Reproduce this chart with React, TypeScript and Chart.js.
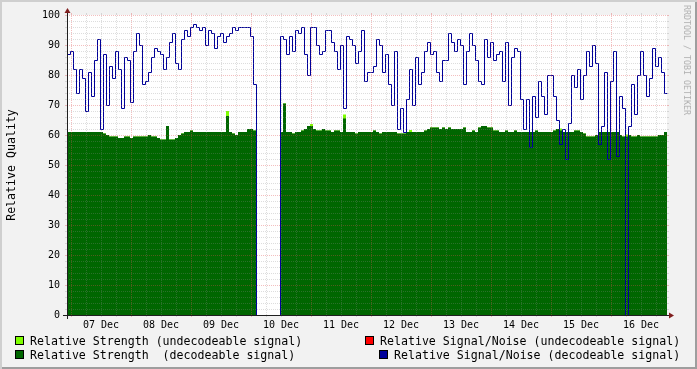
import { useEffect, useRef } from 'react';
import { Chart, registerables } from 'chart.js';

Chart.register(...registerables);

// ---- data ----
const dayLabels = ['07 Dec', '08 Dec', '09 Dec', '10 Dec', '11 Dec', '12 Dec', '13 Dec', '14 Dec', '15 Dec', '16 Dec'];
// hours relative to 07 Dec 00:00
const startHour = -1.6;
const stepHours = 1.2;
const endHour = 238.4;

// Relative Signal/Noise (decodeable signal)
const snrDecodeable = [
  87, 88, 82, 74, 82, 79, 68, 81, 73, 85, 92, 62, 87, 70, 83, 79, 88, 82, 69, 86,
  85, 71, 88, 94, 90, 77, 78, 81, 86, 89, 88, 87, 82,
  86, 91, 94, 84, 82, 92, 95, 93, 96, 97, 96, 95, 96, 90, 95, 94, 89, 93, 94, 91,
  93, 94, 96, 95, 96, 96, 96, 96, 93, 77,
  0, 0, 0, 0, 0, 0, 0, 0,
  93, 92, 87, 93, 88, 95, 94, 96, 87, 80, 96, 96, 90, 87, 88, 95, 95, 91, 88, 82,
  90, 69, 93, 92, 90, 84, 88, 95, 78,
  81, 81, 83, 92, 90, 81, 87, 77, 70, 88, 62, 69, 61, 72, 82, 70, 86, 77, 81, 88,
  91, 87, 88, 81, 78, 85, 85, 94, 91, 88, 92, 90, 77,
  88, 94, 90, 85, 78, 77, 92, 86, 91, 85, 87, 88, 78, 91, 70, 86, 89, 88, 72, 62,
  72, 56, 73, 66, 78, 73, 67, 80, 80, 73, 65, 57, 62,
  52, 64, 80, 76, 82, 72, 80, 88, 83, 90, 84, 57, 63, 81, 52, 78, 88, 53, 73, 69,
  0, 63, 77, 67, 80, 88, 80, 73, 79, 89, 83, 86, 81, 74,
];

// Relative Strength (decodeable signal)
const strengthDecodeable = [
  61, 61, 61, 61, 61, 61, 61, 61, 61, 61, 61, 61,
  60.5, 60, 59.5, 59.5,
  59.5, 59, 59, 59.5, 59.5, 59, 59.5, 59.5, 59.5,
  59.5, 59.5, 60, 59.5, 59.5, 59,
  58.5, 58.5, 63, 58.5, 58.5, 59,
  60, 60.5, 61,
  61, 61.5, 61, 61, 61, 61, 61, 61, 61, 61, 61, 61, 61,
  66.3,
  61, 60.5, 60, 61, 61, 61,
  62, 62, 61.5,
  0, 0, 0, 0, 0, 0, 0, 0,
  61, 70.5, 61, 61, 60.5, 61, 61, 61.5, 62, 63, 63, 62, 61.5, 61.5, 62, 61.5, 61.5, 61, 61.5, 61.5,
  61, 65.5, 61, 61, 61, 60.5, 61, 61, 61,
  61, 61, 61.5, 61, 60.5, 61, 61, 61, 61, 61, 60.5, 60.5, 60.5, 61, 61, 61, 61, 61, 61, 61.5,
  62, 62.5, 62.5, 62.5, 62, 62.5, 62, 62.5, 62, 62, 62, 62, 62.5,
  61, 61, 61.5, 61, 62.5, 63, 63, 62.5, 62.5, 61.5, 61.5, 61, 61, 61.5, 61, 61, 61.5, 61, 61, 61,
  61, 61, 61, 61.5, 61, 61, 61, 61, 61, 61.5, 62, 61.5, 61,
  61, 61, 61, 61.5, 61.5, 61, 60.5, 59.5, 59.5, 59.5, 60, 61, 61, 61, 61, 61, 61, 61, 60, 59.5,
  59.5, 60, 59.5, 59.5, 60, 59.5, 59.5, 59.5, 59.5, 59.5, 59.5, 60, 60, 61,
];

// Relative Strength (undecodeable signal): sample index -> extra amount on top
const undecodeableIndex = [53, 81, 92, 114, 164, 186];
const undecodeableValue = [1.7, 0.7, 1.3, 0.7, 0.7, 0.7];

const legendItems = [
  { label: 'Relative Strength (undecodeable signal)', color: '#7fff00' },
  { label: 'Relative Strength  (decodeable signal)', color: '#006600' },
  { label: 'Relative Signal/Noise (undecodeable signal)', color: '#ff0000' },
  { label: 'Relative Signal/Noise (decodeable signal)', color: '#000099' },
];

const yMin = 0;
const yMax = 100;
const yMinorStep = 2;
const yMajorStep = 10;
const xMinorStep = 6;
const xMajorStep = 24;

const FONT = "'DejaVu Sans Mono', monospace";

const rrdPlugin = {
  id: 'rrd',
  beforeDraw(chart: any) {
    const { ctx, chartArea: a } = chart;
    ctx.save();
    ctx.fillStyle = '#ffffff';
    ctx.fillRect(a.left, a.top, a.right - a.left, a.bottom - a.top);
    ctx.restore();
  },
  beforeDatasetDraw(chart: any, args: any) {
    if (args.index === 0) {
      chart.ctx.save();
      chart.ctx.translate(0.5, 0.5);
    }
  },
  afterDatasetDraw(chart: any, args: any) {
    if (args.index === 0) chart.ctx.restore();
  },
  afterDatasetsDraw(chart: any) {
    const { ctx, chartArea: a, scales } = chart;
    const xs = scales.x;
    const ys = scales.y;
    const X0 = a.left;
    const X1 = a.right;
    const Y0 = a.bottom;
    const Y1 = a.top;
    const minor = 'rgba(143,143,143,0.75)';
    const major = 'rgba(222,79,79,0.6)';
    const line = (x1: number, y1: number, x2: number, y2: number) => {
      ctx.beginPath();
      ctx.moveTo(x1, y1);
      ctx.lineTo(x2, y2);
      ctx.stroke();
    };
    ctx.save();
    ctx.lineCap = 'butt';
    for (const t of ys.ticks) {
      const v = t.value;
      const isMajor = v % yMajorStep === 0;
      const py = Math.round(ys.getPixelForValue(v)) + 0.5;
      ctx.strokeStyle = isMajor ? major : minor;
      ctx.lineWidth = isMajor ? 0.6 : 0.4;
      ctx.setLineDash([]);
      line(X0 - 2, py, X0, py);
      line(X1, py, X1 + 2, py);
      ctx.setLineDash([1, 1]);
      line(X0, py, X1, py);
    }
    for (const t of xs.ticks) {
      const h = t.value;
      const isMajor = h % xMajorStep === 0;
      const px = Math.round(xs.getPixelForValue(h)) + 0.5;
      ctx.strokeStyle = isMajor ? major : minor;
      ctx.lineWidth = isMajor ? 0.6 : 0.4;
      ctx.setLineDash([]);
      line(px, Y0, px, Y0 + 2);
      line(px, Y1 - 2, px, Y1);
      ctx.setLineDash([1, 1]);
      line(px, Y0, px, Y1);
    }
    // axes
    ctx.setLineDash([]);
    ctx.strokeStyle = '#1f1f1f';
    ctx.lineWidth = 1;
    line(X0 - 4, Y0 + 0.5, X1 + 4, Y0 + 0.5);
    line(X0 + 0.5, Y0 + 4, X0 + 0.5, Y1 - 4);
    // arrows
    ctx.fillStyle = '#801f1f';
    ctx.beginPath();
    ctx.moveTo(X1 + 2, Y0 + 0.5 - 3);
    ctx.lineTo(X1 + 2, Y0 + 0.5 + 3);
    ctx.lineTo(X1 + 7, Y0 + 0.5);
    ctx.closePath();
    ctx.fill();
    ctx.beginPath();
    ctx.moveTo(X0 + 0.5 - 3, Y1 - 2);
    ctx.lineTo(X0 + 0.5 + 3, Y1 - 2);
    ctx.lineTo(X0 + 0.5, Y1 - 7);
    ctx.closePath();
    ctx.fill();
    ctx.restore();
  },
};

export default function App() {
  const ref = useRef<HTMLCanvasElement>(null);

  useEffect(() => {
    if (!ref.current) return;
    const times = snrDecodeable.map((_, i) => startHour + i * stepHours);
    const toPoints = (arr: number[]) => [
      ...arr.map((v, i) => ({ x: times[i], y: v })),
      { x: endHour, y: arr[arr.length - 1] },
    ];
    const undecTop = strengthDecodeable.map((v, i) => {
      const k = undecodeableIndex.indexOf(i);
      return k >= 0 ? v + undecodeableValue[k] : v;
    });

    const yTicks: { value: number }[] = [];
    for (let v = yMin; v <= yMax; v += yMinorStep) yTicks.push({ value: v });
    const xTicks: { value: number }[] = [];
    for (let h = 0; h <= endHour; h += xMinorStep) xTicks.push({ value: h });

    const chart = new Chart(ref.current, {
      type: 'line',
      data: {
        datasets: [
          {
            label: legendItems[3].label,
            data: toPoints(snrDecodeable),
            borderColor: legendItems[3].color,
            borderWidth: 1,
            pointRadius: 0,
            stepped: 'before',
            fill: false,
            order: 0,
          },
          {
            label: legendItems[1].label,
            data: toPoints(strengthDecodeable),
            borderColor: 'rgba(0,0,0,0)',
            borderWidth: 0,
            backgroundColor: legendItems[1].color,
            pointRadius: 0,
            stepped: 'before',
            fill: 'origin',
            order: 1,
          },
          {
            label: legendItems[0].label,
            data: toPoints(undecTop),
            borderColor: 'rgba(0,0,0,0)',
            borderWidth: 0,
            backgroundColor: legendItems[0].color,
            pointRadius: 0,
            stepped: 'before',
            fill: 'origin',
            order: 2,
          },
        ],
      } as any,
      options: {
        responsive: false,
        animation: false,
        events: [],
        layout: { padding: { top: 15, right: 30, left: 0, bottom: 0 } },
        plugins: { legend: { display: false }, tooltip: { enabled: false } },
        scales: {
          x: {
            type: 'linear',
            min: startHour,
            max: endHour,
            afterBuildTicks: (s: any) => {
              s.ticks = xTicks.map((t) => ({ ...t }));
            },
            afterFit: (s: any) => {
              s.height = 54;
            },
            grid: { display: false, drawTicks: false },
            border: { display: false },
            ticks: {
              autoSkip: false,
              maxRotation: 0,
              minRotation: 0,
              padding: 4,
              color: '#000',
              font: { family: FONT, size: 10 },
              callback: (v: any) => {
                const h = Number(v);
                if ((h - 12) % xMajorStep === 0) return dayLabels[(h - 12) / xMajorStep] ?? '';
                return '';
              },
            },
          },
          y: {
            min: yMin,
            max: yMax,
            afterBuildTicks: (s: any) => {
              s.ticks = yTicks.map((t) => ({ ...t }));
            },
            afterFit: (s: any) => {
              s.width = 67;
            },
            grid: { display: false, drawTicks: false },
            border: { display: false },
            ticks: {
              autoSkip: false,
              padding: 7,
              color: '#000',
              font: { family: FONT, size: 10 },
              callback: (v: any) => (Number(v) % yMajorStep === 0 ? String(v) : ''),
            },
          },
        },
      } as any,
      plugins: [rrdPlugin as any],
    });
    return () => chart.destroy();
  }, []);

  const legendText: React.CSSProperties = {
    position: 'absolute',
    font: `11.6px ${FONT}`,
    lineHeight: '14px',
    whiteSpace: 'pre',
    color: '#000',
  };
  const box = (color: string, left: number, top: number): React.CSSProperties => ({
    position: 'absolute',
    left,
    top,
    width: 7,
    height: 7,
    background: color,
    border: '1px solid #000',
  });

  return (
    <div
      style={{
        position: 'absolute',
        left: 0,
        top: 0,
        width: 697,
        height: 369,
        background: '#f2f2f2',
        boxShadow: 'inset 2px 2px 0 #cfcfcf, inset -2px -2px 0 #9e9e9e',
        overflow: 'hidden',
      }}
    >
      <canvas
        ref={ref}
        width={697}
        height={369}
        style={{ position: 'absolute', left: 0, top: 0, width: 697, height: 369 }}
      />
      <div
        style={{
          position: 'absolute',
          left: 11,
          top: 165,
          transform: 'translate(-50%, -50%) rotate(-90deg)',
          font: `11.6px ${FONT}`,
          whiteSpace: 'pre',
          color: '#000',
        }}
      >
        Relative Quality
      </div>
      <div
        style={{
          position: 'absolute',
          left: 687,
          top: 60,
          transform: 'translate(-50%, -50%) rotate(90deg)',
          font: `8.3px ${FONT}`,
          whiteSpace: 'pre',
          color: '#b0b0b0',
        }}
      >
        RRDTOOL / TOBI OETIKER
      </div>
      <div style={box(legendItems[0].color, 15, 336)} />
      <div style={{ ...legendText, left: 30, top: 334 }}>{legendItems[0].label}</div>
      <div style={box(legendItems[1].color, 15, 350)} />
      <div style={{ ...legendText, left: 30, top: 348 }}>{legendItems[1].label}</div>
      <div style={box(legendItems[2].color, 365, 336)} />
      <div style={{ ...legendText, left: 380, top: 334 }}>{legendItems[2].label}</div>
      <div style={box(legendItems[3].color, 379, 350)} />
      <div style={{ ...legendText, left: 394, top: 348 }}>{legendItems[3].label}</div>
    </div>
  );
}
